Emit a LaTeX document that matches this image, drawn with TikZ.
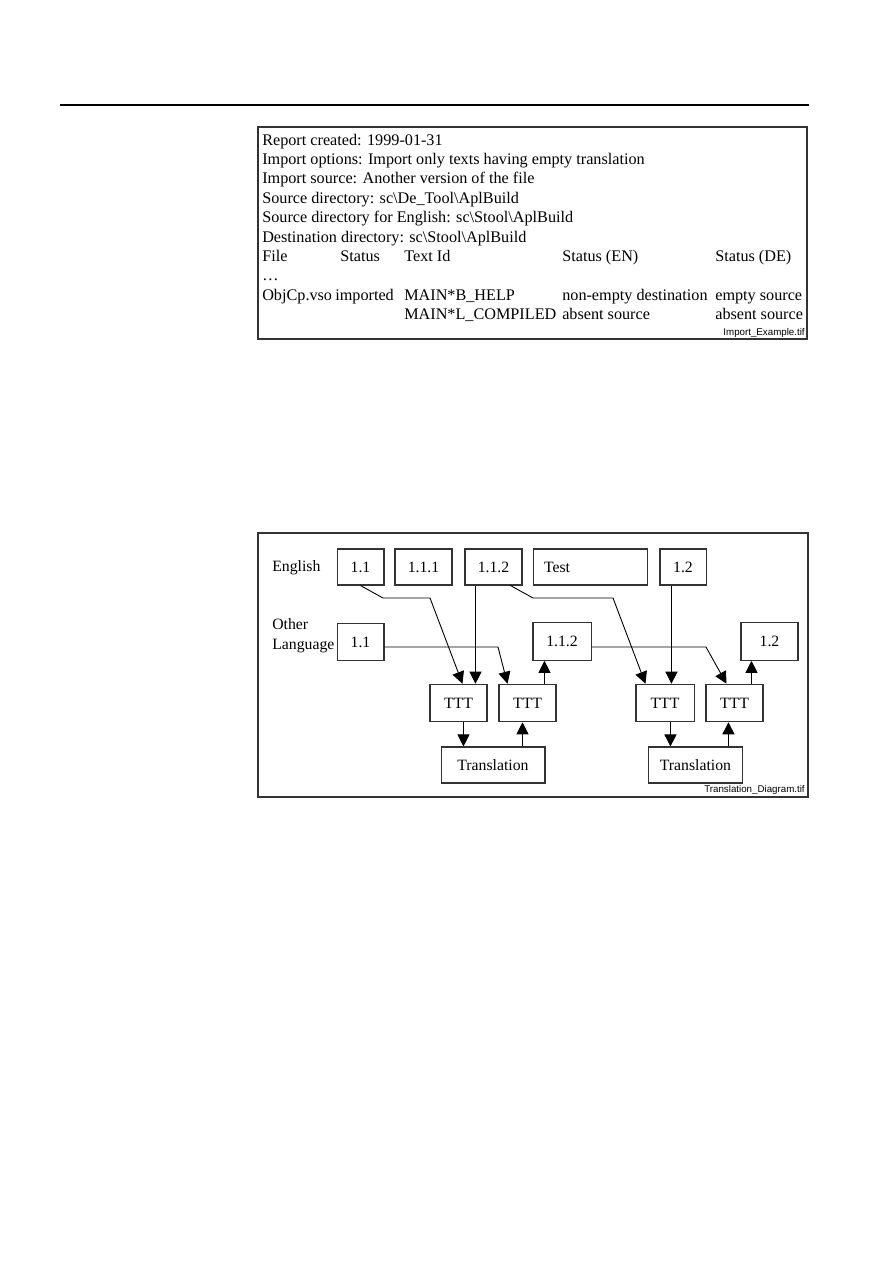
\documentclass[tikz,border=0pt]{standalone}
\usepackage{fontspec}
\setmainfont{Liberation Serif}
\newfontfamily\tagfont{Liberation Sans}
\usetikzlibrary{positioning, calc, arrows.meta}
\definecolor{Ink}{HTML}{000000}
\definecolor{Frame}{HTML}{333333}
\tikzset{
    cellnode/.style={rectangle, draw=Frame, line width=0.7pt, minimum height=25pt, inner xsep=7.3pt, inner ysep=0pt, font=\fontsize{10.5}{12}\selectfont},
    sidenode/.style={anchor=base west, inner sep=0pt, font=\fontsize{10.5}{12}\selectfont},
    reportnode/.style={anchor=base west, inner sep=0pt, font=\fontsize{10.8}{13}\selectfont},
    tagnode/.style={anchor=base east, inner sep=0pt, font=\tagfont\fontsize{6.5}{7}\selectfont},
    arrow/.style={-{Triangle[width=8pt, length=8pt]}, line width=0.6pt, color=Ink},
    frame/.style={draw=Frame, line width=0.8pt},
}

\begin{document}
\begin{tikzpicture}[x=0.6667pt, y=-0.6667pt]
    \useasboundingbox (0,0) rectangle (893,1263);
    % Kopflinie
    \draw[line width=1pt, Ink] (60,105) -- (809,105);

    % Import-Bericht
    \draw[frame] (258,127) rectangle (807,339);
    \foreach \txt [count=\i] in {
        {Report created: 1999-01-31},
        {Import options: Import only texts having empty translation},
        {Import source: Another version of the file},
        {Source directory: sc\textbackslash De\_Tool\textbackslash AplBuild},
        {Source directory for English: sc\textbackslash Stool\textbackslash AplBuild},
        {Destination directory: sc\textbackslash Stool\textbackslash AplBuild}}
        \node[reportnode] (rep\i) at (262,125.6+19.4*\i) {\txt};

    % Tabelle
    \node[reportnode] (colfile) at (262,261.4) {File};
    \node[reportnode] (colstat) at (340,261.4) {Status};
    \node[reportnode] (colid) at (404,261.4) {Text Id};
    \node[reportnode] (colen) at (562,261.4) {Status (EN)};
    \node[reportnode] (colde) at (715,261.4) {Status (DE)};
    \node[reportnode] (skip) at (262,280.8) {\dots};
    \node[reportnode] (rowfile) at (262,300.2) {ObjCp.vso};
    \node[reportnode] (rowstat) at (335,300.2) {imported};
    \node[reportnode] (rowida) at (404,300.2) {MAIN*B\_HELP};
    \node[reportnode] (rowena) at (562,300.2) {non-empty destination};
    \node[reportnode] (rowdea) at (715,300.2) {empty source};
    \node[reportnode] (rowidb) at (404,319.6) {MAIN*L\_COMPILED};
    \node[reportnode] (rowenb) at (562,319.6) {absent source};
    \node[reportnode] (rowdeb) at (715,319.6) {absent source};
    \node[tagnode] (tagrep) at (805,335) {Import\_Example.tif};

    % Uebersetzungsdiagramm
    \draw[frame] (258,533) rectangle (808,797);
    \node[sidenode] (lblen) at (272,571) {English};
    \node[sidenode] (lblother) at (272,629) {Other};
    \node[sidenode] (lbllang) at (272,649) {Language};

    % englische Texte
    \node[cellnode, minimum height=24pt, minimum width=31.3pt] (e11) at (360.5,567) {1.1};
    \node[cellnode, minimum height=24pt, minimum width=38pt] (e111) at (423.5,567) {1.1.1};
    \node[cellnode, minimum height=24pt, minimum width=38pt] (e112) at (493.5,567) {1.1.2};
    \node[cellnode, minimum height=24pt, text width=62pt, align=left] (etest) at (590.5,567) {Test};
    \node[cellnode, minimum height=24pt, minimum width=30.7pt] (e12) at (683,567) {1.2};

    % andere Sprache
    \node[cellnode, minimum width=31.3pt] (o11) at (360.5,642) {1.1};
    \node[cellnode, minimum width=38.7pt] (o112) at (562,641.5) {1.1.2};
    \node[cellnode, minimum width=38pt] (o12) at (769.5,641.5) {1.2};

    % TTT und Translation
    \node[cellnode, minimum width=38pt] (ttt1) at (458.5,703) {TTT};
    \node[cellnode, minimum width=38pt] (ttt2) at (527.5,703) {TTT};
    \node[cellnode, minimum width=38.7pt] (ttt3) at (665,703) {TTT};
    \node[cellnode, minimum width=38pt] (ttt4) at (734.5,703) {TTT};
    \node[cellnode, minimum height=24pt, minimum width=69.3pt] (tr1) at (493,765) {Translation};
    \node[cellnode, minimum height=24pt, minimum width=62pt] (tr2) at (695.5,765) {Translation};

    % Pfeile links
    \draw[arrow] (e11.south) -- (383,598) -- (430,598) -- ($(ttt1.north west)+(33,0)$);
    \coordinate (v1) at ($(e112.south west)+(11,0)$);
    \draw[arrow] (v1) -- (v1 |- ttt1.north);
    \draw[arrow] ($(o11.east)+(0,5)$) -- (498,647) -- ($(ttt2.north west)+(9,0)$);
    \coordinate (u1) at ($(ttt2.north west)+(46,0)$);
    \draw[arrow] (u1) -- (u1 |- o112.south);
    \coordinate (d1) at ($(ttt1.south west)+(34,0)$);
    \draw[arrow] (d1) -- (d1 |- tr1.north);
    \coordinate (u2) at ($(tr1.north west)+(82,0)$);
    \draw[arrow] (u2) -- (u2 |- ttt2.south);

    % Pfeile rechts
    \draw[arrow] ($(e112.south west)+(46,0)$) -- (533,598) -- (613,598) -- ($(ttt3.north west)+(10,0)$);
    \coordinate (v2) at ($(e12.south west)+(12,0)$);
    \draw[arrow] (v2) -- (v2 |- ttt3.north);
    \draw[arrow] ($(o112.east)+(0,5.5)$) -- (706,647) -- ($(ttt4.north west)+(21,0)$);
    \coordinate (u3) at ($(ttt4.north west)+(46,0)$);
    \draw[arrow] (u3) -- (u3 |- o12.south);
    \coordinate (d2) at ($(ttt3.south west)+(35,0)$);
    \draw[arrow] (d2) -- (d2 |- tr2.north);
    \coordinate (u4) at ($(tr2.north west)+(80,0)$);
    \draw[arrow] (u4) -- (u4 |- ttt4.south);

    \node[tagnode] (tagdiag) at (805,792) {Translation\_Diagram.tif};
\end{tikzpicture}
\end{document}
